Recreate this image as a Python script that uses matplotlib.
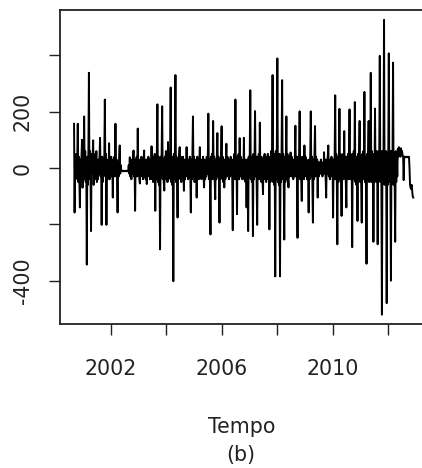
import matplotlib.pyplot as plt
import numpy as np

# weekly series, starting September 2000
start_year = 2000 + 8 / 12
values = [
    157, -158, 30, -40, 50, -30, 20, 157, -50, 40, -60, -140, 30, -20, 40, 100,
    -70, 30, -40, 183, -30, 60, -50, 20, -343, 40, -60, 50, 338, -40, 60, -30,
    -224, 50, -20, 40, 98, -60, 30, -40, 50, -30, 60, -50, 20, -40, 30, -20,
    40, 107, -30, 20, -202, 40, -50, 30, -20, 40, 243, -30, 50, -202, 30, -40,
    20, -30, 88, -40, 30, -20, 40, -30, 20, -105, 30, -20, 40, -30, 157, -20,
    30, -40, -158, 20, -30, 40, 80, -20, 10, -10, -10, -10, -12, -10, -10, -10,
    -12, -10, -10, -10, -12, -10, -10, 10, -20, 38, -30, 20, -40, 30, -20, 10,
    62, -30, 20, -152, 30, -20, 40, -30, 140, -20, 30, -40, -55, 20, -30, 40,
    -20, 30, -40, 20, 62, -30, 20, -40, 30, -57, 20, -30, 40, -20, 30, -40,
    20, -30, 77, -40, 30, -50, 40, -30, 50, -152, 30, -40, 60, 226, -50, 40,
    -60, 30, -289, 40, -30, 50, 219, -40, 30, -50, -80, 40, -30, 60, -40, 30,
    -50, 92, -40, 50, -30, 60, 286, -50, 40, -60, 30, -402, 50, -40, 60, 330,
    -50, 40, -30, -176, 30, -40, 50, 74, -30, 40, -50, 20, -30, 40, -20, -81,
    30, -40, 20, -30, 74, -20, 30, -40, 20, -30, 40, -20, -158, 30, -40, 50,
    183, -30, 40, -50, 20, -40, 30, -105, 40, -30, 20, -40, 30, 74, -30, 20,
    -40, 30, -20, 40, -30, -69, 30, -40, 20, -30, 40, -20, 30, 193, -40, 30,
    -50, -236, 40, -30, 50, -40, 167, -30, 40, -50, -111, 30, -40, 50, 124, -30,
    40, -20, -194, 30, -40, 50, 148, -30, 40, -50, 20, -69, 30, -40, 20, 86,
    -30, 40, -20, 30, -40, 20, -30, 40, -20, 30, -40, -221, 30, -40, 50, -30,
    243, -40, 30, -164, 40, -30, 50, -40, 106, -30, 40, -20, 30, -40, 20, -30,
    107, -40, 30, -50, 20, -140, 30, -40, -224, 40, -30, 50, 276, -40, 30, -50,
    40, -242, 50, -40, 30, 202, -30, 40, -50, -202, 40, -30, 50, -40, 161, -30,
    40, -50, 30, -40, -93, 40, -30, 50, -40, 30, -50, 40, -30, 50, -40, 30,
    -218, 40, -50, 60, -40, 50, 330, -50, 40, -60, 50, -385, 60, -40, 50, 389,
    -50, 40, -60, 50, -385, 40, -50, 60, 312, -40, 50, -30, -254, 40, -50, 30,
    183, -40, 50, -30, -69, 40, -30, 20, 55, -30, 40, -20, 30, -40, 20, -30,
    40, 150, -30, 40, -50, -248, 40, -30, 50, 201, -40, 30, -50, -117, 40, -30,
    20, -40, 80, -30, 40, -20, 30, -40, 20, -30, -158, 30, -40, 50, 201, -30,
    40, -50, -194, 30, -40, 50, 149, -30, 40, -20, 30, -105, 20, -30, 20, 14,
    -20, 30, -20, 10, -30, 20, -10, 56, -20, 30, -40, -105, 30, -20, 40, 80,
    -30, 20, -40, 30, -20, 40, -30, 20, -176, 30, -40, 50, 258, -40, 50, -30,
    -271, 40, -50, 30, 210, -40, 50, -30, -170, 40, -30, 50, -40, 131, -30, 40,
    -50, -140, 40, -30, 50, -40, 30, 208, -40, 50, -30, 40, -281, 50, -40, 60,
    -30, 234, -50, 40, -60, 30, -188, 50, -40, 60, 167, -50, 40, -60, -194, 50,
    -40, 60, -30, 270, -50, 40, -60, -340, 50, -40, 60, 167, -50, 40, -30, 338,
    -50, 60, -40, 50, -262, 40, -50, 211, -40, 60, -50, 40, -271, 60, -40, 50,
    398, -50, 60, -40, -521, 60, -50, 40, 526, -60, 50, -40, 60, -480, 50, -60,
    40, 407, -50, 60, -40, -400, 60, -50, 40, 374, -60, 50, -40, -262, 60, -50,
    40, -30, 68, 40, 74, 50, 60, 40, 70, 50, 60, 45, 40, -43, 40, 40,
    38, 40, 38, 40, 38, 40, 38, 40, 0, -60, -70, -75, -60, -80, -100, -105,
]
x_ticks = [2002, 2004, 2006, 2008, 2010, 2012]
x_labels = ["2002", "", "2006", "", "2010", ""]
y_ticks = [-400, -200, 0, 200, 400]
y_labels = ["-400", "", "0", "200", ""]

t = start_year + np.arange(len(values)) / 52.18

fig = plt.figure(figsize=(4.22, 4.68), dpi=100)
ax = fig.add_axes([60 / 422, 144 / 468, 367 / 422, 314 / 468])
ax.plot(t, values, color="black", linewidth=1.4)

ax.set_xlim(2000.159, 2013.41)
ax.set_ylim(-554, 561)
ax.set_xticks(x_ticks)
ax.set_xticklabels(x_labels)
ax.set_yticks(y_ticks)
ax.set_yticklabels(y_labels, rotation=90, va="center", ha="center")

ax.tick_params(length=8, width=1, color="#222222", labelsize=14.8,
               labelcolor="#222222")
ax.tick_params(axis="y", pad=19)
ax.tick_params(axis="x", pad=17)
for s in ax.spines.values():
    s.set_linewidth(1.3)
    s.set_color("#222222")

fig.text(242 / 422, 1 - 427 / 468, "Tempo", ha="center", va="center",
         fontsize=14.8, color="#222222")
fig.text(241 / 422, 1 - 455 / 468, "(b)", ha="center", va="center",
         fontsize=14.8, color="#222222")

fig.savefig("out.png", dpi=100)
